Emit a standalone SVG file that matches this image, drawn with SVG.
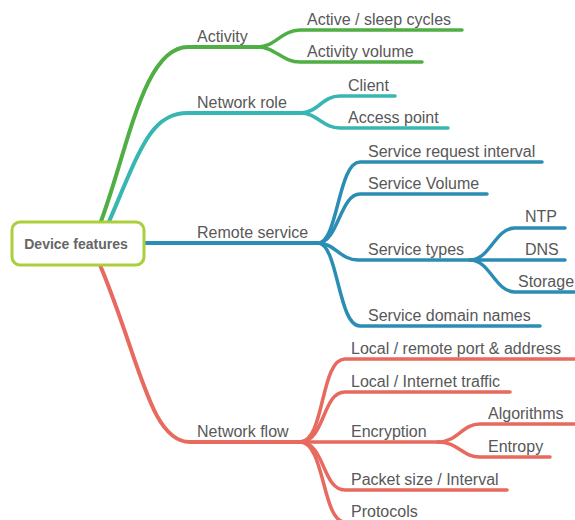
<svg xmlns="http://www.w3.org/2000/svg" width="575" height="520" viewBox="0 0 575 520">
  <style>
    .edge { fill: none; stroke-linecap: round; stroke-linejoin: round; }
    .main { stroke-width: 4; }
    .sub { stroke-width: 3.5; }
    .g { stroke: #4fae44; }
    .t { stroke: #38b6b2; }
    .b { stroke: #2b8db3; }
    .r { stroke: #e8695e; }
    .lbl { font-family: "Liberation Sans", Arial, sans-serif; font-size: 16px; fill: #585858; }
    .root-lbl { font-family: "Liberation Sans", Arial, sans-serif; font-size: 14px; font-weight: bold; fill: #666; }
  </style>
  <rect width="575" height="520" fill="#ffffff"/>

  <g id="connectors">
    <!-- Activity -->
    <path class="edge main g" d="M100,224 C 128,150 143,47 188,47 H 258"/>
    <path class="edge sub g" d="M258,47 C 275,47 282,30 300,30 H 462"/>
    <path class="edge sub g" d="M258,47 C 275,47 282,62 300,62 H 422"/>
    <!-- Network role -->
    <path class="edge main t" d="M108,224 C 140,150 150,113 188,113 H 300"/>
    <path class="edge sub t" d="M300,113 C 318,113 322,96 340,96 H 395"/>
    <path class="edge sub t" d="M300,113 C 318,113 322,128 340,128 H 448"/>
    <!-- Remote service -->
    <path class="edge main b" d="M143,243 H 318"/>
    <path class="edge sub b" d="M318,243 C 338,243 338,162 360,162 H 542"/>
    <path class="edge sub b" d="M318,243 C 338,243 340,194 360,194 H 487"/>
    <path class="edge sub b" d="M318,243 C 335,243 340,260 358,260 H 565"/>
    <path class="edge sub b" d="M470,260 C 490,260 495,228 515,228 H 565"/>
    <path class="edge sub b" d="M470,260 C 490,260 495,292 515,292 H 580"/>
    <path class="edge sub b" d="M318,243 C 338,243 338,326 360,326 H 540"/>
    <!-- Network flow -->
    <path class="edge main r" d="M100,265 C 140,360 150,442 190,442 H 300"/>
    <path class="edge sub r" d="M300,442 C 325,442 320,359 345,359 H 580"/>
    <path class="edge sub r" d="M300,442 C 325,442 322,392 345,392 H 510"/>
    <path class="edge sub r" d="M300,442 H 438"/>
    <path class="edge sub r" d="M438,442 C 458,442 462,424 480,424 H 575"/>
    <path class="edge sub r" d="M438,442 C 458,442 462,457 480,457 H 550"/>
    <path class="edge sub r" d="M300,442 C 325,442 322,490 345,490 H 507"/>
    <path class="edge sub r" d="M300,442 C 325,442 322,522 345,522 H 450"/>
  </g>

  <g id="root">
    <rect x="12" y="222" width="132" height="43" rx="8" fill="#ffffff" stroke="#a9cf3a" stroke-width="3"/>
    <text class="root-lbl" x="76" y="249" text-anchor="middle">Device features</text>
  </g>

  <g id="activity"><text class="lbl" x="197" y="42">Activity</text></g>
  <g id="active-sleep"><text class="lbl" x="307" y="25">Active / sleep cycles</text></g>
  <g id="activity-volume"><text class="lbl" x="307" y="57">Activity volume</text></g>

  <g id="network-role"><text class="lbl" x="197" y="108">Network role</text></g>
  <g id="client"><text class="lbl" x="348" y="91">Client</text></g>
  <g id="access-point"><text class="lbl" x="348" y="123">Access point</text></g>

  <g id="remote-service"><text class="lbl" x="197" y="238">Remote service</text></g>
  <g id="service-request-interval"><text class="lbl" x="368" y="157">Service request interval</text></g>
  <g id="service-volume"><text class="lbl" x="368" y="189">Service Volume</text></g>
  <g id="service-types"><text class="lbl" x="368" y="255">Service types</text></g>
  <g id="ntp"><text class="lbl" x="525" y="222">NTP</text></g>
  <g id="dns"><text class="lbl" x="525" y="255">DNS</text></g>
  <g id="storage"><text class="lbl" x="518" y="287">Storage</text></g>
  <g id="service-domain-names"><text class="lbl" x="368" y="321">Service domain names</text></g>

  <g id="network-flow"><text class="lbl" x="197" y="437">Network flow</text></g>
  <g id="local-remote"><text class="lbl" x="351" y="354">Local / remote port &amp; address</text></g>
  <g id="local-internet"><text class="lbl" x="351" y="387">Local / Internet traffic</text></g>
  <g id="encryption"><text class="lbl" x="351" y="437">Encryption</text></g>
  <g id="algorithms"><text class="lbl" x="488" y="419">Algorithms</text></g>
  <g id="entropy"><text class="lbl" x="488" y="452">Entropy</text></g>
  <g id="packet-size"><text class="lbl" x="351" y="485">Packet size / Interval</text></g>
  <g id="protocols"><text class="lbl" x="351" y="517">Protocols</text></g>
</svg>
